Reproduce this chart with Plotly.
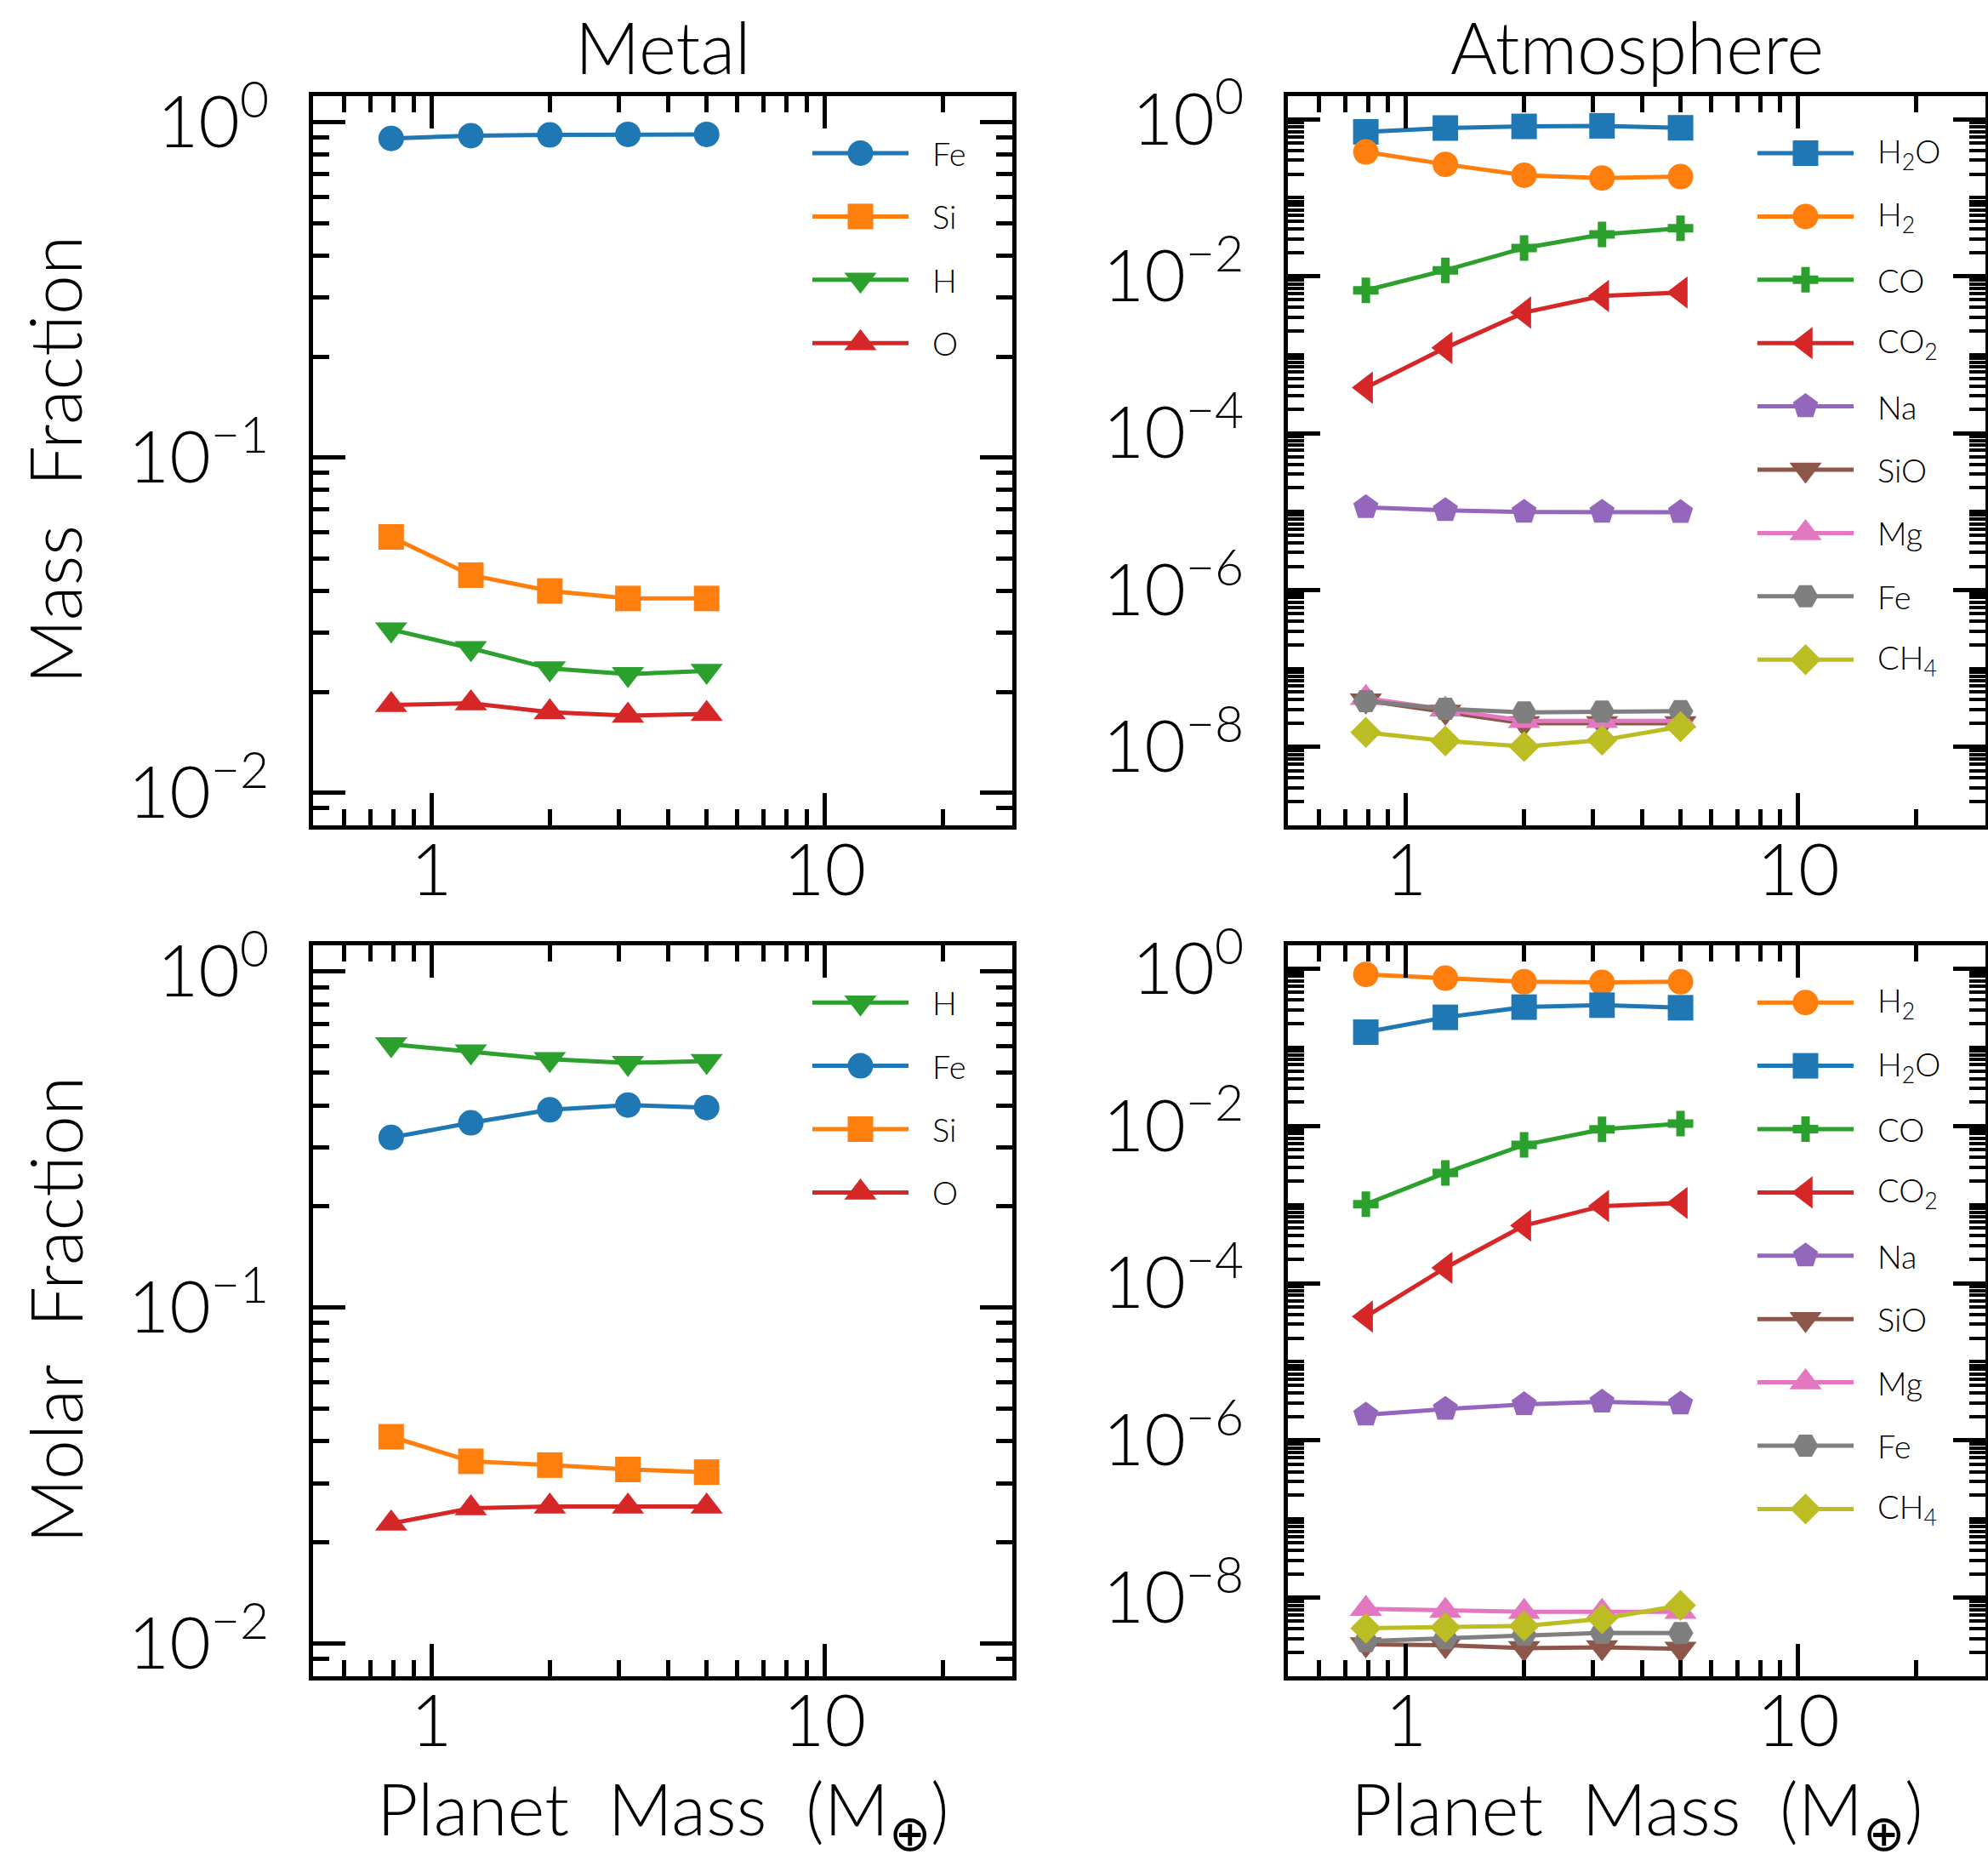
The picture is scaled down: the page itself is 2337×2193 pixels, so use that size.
import math
import plotly.graph_objects as go

W, H = 2337, 2193

# ---------------------------------------------------------------- data
planet_mass = [0.79, 1.26, 2.0, 3.16, 5.01]

# Metal phase, mass fraction
metal_mass_fe = [0.895, 0.912, 0.917, 0.92, 0.92]
metal_mass_si = [0.058, 0.0446, 0.040, 0.038, 0.038]
metal_mass_h = [0.0307, 0.027, 0.0235, 0.0226, 0.0231]
metal_mass_o = [0.0183, 0.0185, 0.0174, 0.0170, 0.0172]

# Metal phase, molar fraction
metal_molar_h = [0.608, 0.579, 0.549, 0.535, 0.542]
metal_molar_fe = [0.321, 0.355, 0.388, 0.401, 0.394]
metal_molar_si = [0.0413, 0.0349, 0.034, 0.033, 0.0324]
metal_molar_o = [0.0228, 0.0253, 0.0256, 0.0256, 0.0256]

# Atmosphere, mass fraction
atm_mass_h2o = [0.693, 0.775, 0.813, 0.826, 0.78]
atm_mass_h2 = [0.384, 0.267, 0.194, 0.179, 0.186]
atm_mass_co = [0.0066, 0.0119, 0.0229, 0.0341, 0.0408]
atm_mass_co2 = [3.8e-4, 1.22e-3, 3.44e-3, 5.6e-3, 6.2e-3]
atm_mass_na = [1.13e-5, 1.04e-5, 9.9e-6, 9.9e-6, 9.8e-6]
atm_mass_sio = [3.9e-8, 2.8e-8, 2.0e-8, 2.0e-8, 2.0e-8]
atm_mass_mg = [4.2e-8, 3.0e-8, 2.15e-8, 2.15e-8, 2.15e-8]
atm_mass_fe = [3.84e-8, 3.06e-8, 2.75e-8, 2.82e-8, 2.86e-8]
atm_mass_ch4 = [1.53e-8, 1.19e-8, 1.01e-8, 1.22e-8, 1.81e-8]

# Atmosphere, molar fraction
atm_molar_h2 = [0.846, 0.76, 0.683, 0.67, 0.683]
atm_molar_h2o = [0.156, 0.241, 0.325, 0.344, 0.319]
atm_molar_co = [1.01e-3, 2.53e-3, 5.74e-3, 9.06e-3, 1.07e-2]
atm_molar_co2 = [3.76e-5, 1.57e-4, 5.41e-4, 9.58e-4, 1.05e-3]
atm_molar_na = [2.12e-6, 2.51e-6, 2.87e-6, 3.1e-6, 2.93e-6]
atm_molar_sio = [2.54e-9, 2.49e-9, 2.28e-9, 2.33e-9, 2.24e-9]
atm_molar_mg = [7.2e-9, 6.8e-9, 6.6e-9, 6.6e-9, 6.6e-9]
atm_molar_fe = [2.8e-9, 3.05e-9, 3.37e-9, 3.57e-9, 3.54e-9]
atm_molar_ch4 = [4.08e-9, 4.19e-9, 4.36e-9, 5.37e-9, 7.96e-9]

x_tick_vals = [1, 10]
x_tick_text = ["1", "10"]

# ---------------------------------------------------------------- styles
FONT = "Lato, 'Noto Sans', sans-serif"
WEIGHT = 300
BIG = 84
SMALL = 38
LW = 5

STYLE = {
    "Fe_metal": ("#1f77b4", "circle", 30),
    "Si": ("#ff7f0e", "square", 30),
    "H": ("#2ca02c", "triangle-down", 33),
    "O": ("#d62728", "triangle-up", 33),
    "H2O": ("#1f77b4", "square", 30),
    "H2": ("#ff7f0e", "circle", 30),
    "CO": ("#2ca02c", "cross", 25),
    "CO2": ("#d62728", "triangle-left", 33),
    "Na": ("#9467bd", "pentagon", 31),
    "SiO": ("#8c564b", "triangle-down", 33),
    "Mg": ("#e377c2", "triangle-up", 33),
    "Fe_gas": ("#7f7f7f", "hexagon2", 30),
    "CH4": ("#bcbd22", "diamond", 28),
}

LABEL = {
    "Fe_metal": "Fe", "Si": "Si", "H": "H", "O": "O",
    "H2O": "H<sub>2</sub>O", "H2": "H<sub>2</sub>", "CO": "CO",
    "CO2": "CO<sub>2</sub>", "Na": "Na", "SiO": "SiO", "Mg": "Mg",
    "Fe_gas": "Fe", "CH4": "CH<sub>4</sub>",
}

# panel boxes in page pixels: (left, right, top, bottom)
panels = [
    dict(box=(368, 1190, 112.5, 970), yr=(0.008, 1.2), atm=False,
         series=[("Fe_metal", metal_mass_fe), ("Si", metal_mass_si),
                 ("H", metal_mass_h), ("O", metal_mass_o)]),
    dict(box=(1514, 2334, 112.5, 970), yr=(1e-9, 2.0), atm=True,
         series=[("H2O", atm_mass_h2o), ("H2", atm_mass_h2), ("CO", atm_mass_co),
                 ("CO2", atm_mass_co2), ("Na", atm_mass_na), ("SiO", atm_mass_sio),
                 ("Mg", atm_mass_mg), ("Fe_gas", atm_mass_fe), ("CH4", atm_mass_ch4)]),
    dict(box=(368, 1190, 1110.7, 1970), yr=(0.008, 1.2), atm=False,
         series=[("H", metal_molar_h), ("Fe_metal", metal_molar_fe),
                 ("Si", metal_molar_si), ("O", metal_molar_o)]),
    dict(box=(1514, 2334, 1110.7, 1970), yr=(1e-9, 2.0), atm=True,
         series=[("H2", atm_molar_h2), ("H2O", atm_molar_h2o), ("CO", atm_molar_co),
                 ("CO2", atm_molar_co2), ("Na", atm_molar_na), ("SiO", atm_molar_sio),
                 ("Mg", atm_molar_mg), ("Fe_gas", atm_molar_fe), ("CH4", atm_molar_ch4)]),
]


def fx(px):
    return px / W


def fy(py):
    return 1 - py / H


def sup_label(e):
    return "10<sup>" + ("−" if e < 0 else "") + str(abs(e)) + "</sup>"


fig = go.Figure()
layout = dict(
    width=W, height=H,
    margin=dict(l=0, r=0, t=0, b=0),
    paper_bgcolor="white", plot_bgcolor="rgba(0,0,0,0)",
    font=dict(family=FONT, color="black", size=BIG, weight=WEIGHT),
    showlegend=False,
    annotations=[],
    shapes=[],
)

axis_common = dict(
    showline=True, linecolor="black", linewidth=5, mirror="ticks",
    ticks="inside", ticklen=38, tickwidth=5, tickcolor="black",
    showgrid=False, zeroline=False, automargin=False,
    tickfont=dict(family=FONT, size=BIG, color="black", weight=WEIGHT),
)

for k, p in enumerate(panels, start=1):
    L, R, T, B = p["box"]
    xa, ya = ("x", "y") if k == 1 else (f"x{k}", f"y{k}")
    xkey, ykey = ("xaxis", "yaxis") if k == 1 else (f"xaxis{k}", f"yaxis{k}")
    lo, hi = p["yr"]
    y_exps = list(range(-8, 1, 2)) if p["atm"] else [-2, -1, 0]
    yvals = [10.0 ** e for e in y_exps]
    ytext = [sup_label(e) for e in y_exps]
    yrange = [math.log10(lo), math.log10(hi)]

    layout[xkey] = dict(
        axis_common, type="log", domain=[fx(L), fx(R)],
        range=[math.log10(0.5), math.log10(30)], anchor=ya,
        tickmode="array", tickvals=x_tick_vals, ticktext=x_tick_text,
        ticklabelstandoff=-24,
        minor=dict(dtick="D1", ticks="inside", ticklen=19, tickwidth=4.5,
                   tickcolor="black", showgrid=False),
    )
    layout[ykey] = dict(
        axis_common, type="log", domain=[fy(B), fy(T)],
        range=yrange, anchor=xa,
        tickmode="array", tickvals=yvals, ticktext=ytext, ticklabelstandoff=30,
        minor=dict(dtick="D1", ticks="inside", ticklen=19,
                   tickwidth=4 if p["atm"] else 4.5,
                   tickcolor="black", showgrid=False),
    )

    if p["atm"]:
        # unlabelled long ticks at the odd decades
        layout[f"yaxis{k + 8}"] = dict(
            axis_common, type="log", overlaying=ya, anchor=xa, range=yrange,
            tickmode="array", tickvals=[10.0 ** e for e in range(-9, 0, 2)],
            showticklabels=False,
        )

    # data series
    for key, vals in p["series"]:
        color, sym, size = STYLE[key]
        fig.add_trace(go.Scatter(
            x=planet_mass, y=vals, xaxis=xa, yaxis=ya, name=LABEL[key],
            mode="lines+markers", line=dict(color=color, width=LW),
            marker=dict(symbol=sym, size=size, color=color, line=dict(width=0)),
            showlegend=False, cliponaxis=False,
        ))

    # legend key, laid out in panel pixel units on an overlaid axis pair
    ok = k + 4
    oxa, oya = f"x{ok}", f"y{ok}"
    pw, ph = R - L, B - T
    layout[f"xaxis{ok}"] = dict(overlaying=xa, range=[0, pw], visible=False,
                                anchor=oya, showgrid=False, zeroline=False)
    layout[f"yaxis{ok}"] = dict(overlaying=ya, range=[ph, 0], visible=False,
                                anchor=oxa, showgrid=False, zeroline=False)
    off = 268 if p["atm"] else 235
    lx0, lx1 = pw - off, pw - off + 113
    tx = pw - off + 139
    key_y, key_sym, key_size, key_color = [], [], [], []
    for i, (key, _) in enumerate(p["series"]):
        color, sym, size = STYLE[key]
        yy = 67.5 + 74.4 * i
        layout["shapes"].append(dict(
            type="line", xref=oxa, yref=oya, x0=lx0, x1=lx1, y0=yy, y1=yy,
            line=dict(color=color, width=LW), layer="below"))
        key_y.append(yy)
        key_sym.append(sym)
        key_size.append(size)
        key_color.append(color)
        layout["annotations"].append(dict(
            x=tx, y=yy, xref=oxa, yref=oya, text=LABEL[key], showarrow=False,
            xanchor="left", yanchor="middle",
            font=dict(family=FONT, size=SMALL, color="black", weight=WEIGHT)))
    fig.add_trace(go.Scatter(
        x=[(lx0 + lx1) / 2] * len(key_y), y=key_y, xaxis=oxa, yaxis=oya,
        mode="markers", showlegend=False, hoverinfo="skip", cliponaxis=False,
        marker=dict(symbol=key_sym, size=key_size, color=key_color,
                    opacity=1, line=dict(width=0))))

# column titles and axis titles
titles = [
    ("Metal", 779, 55, 0),
    ("Atmosphere", 1924, 55, 0),
    ("Mass  Fraction", 64, 541, -90),
    ("Molar  Fraction", 64, 1540, -90),
    ("Planet  Mass  (M<sub>⊕</sub>)", 779, 2131, 0),
    ("Planet  Mass  (M<sub>⊕</sub>)", 1924, 2131, 0),
]
for text, px, py, ang in titles:
    layout["annotations"].append(dict(
        x=fx(px), y=fy(py), xref="paper", yref="paper", text=text,
        showarrow=False, textangle=ang, xanchor="center", yanchor="middle",
        font=dict(family=FONT, size=BIG, color="black", weight=WEIGHT)))

fig.update_layout(**layout)
fig.write_html("out.html")
